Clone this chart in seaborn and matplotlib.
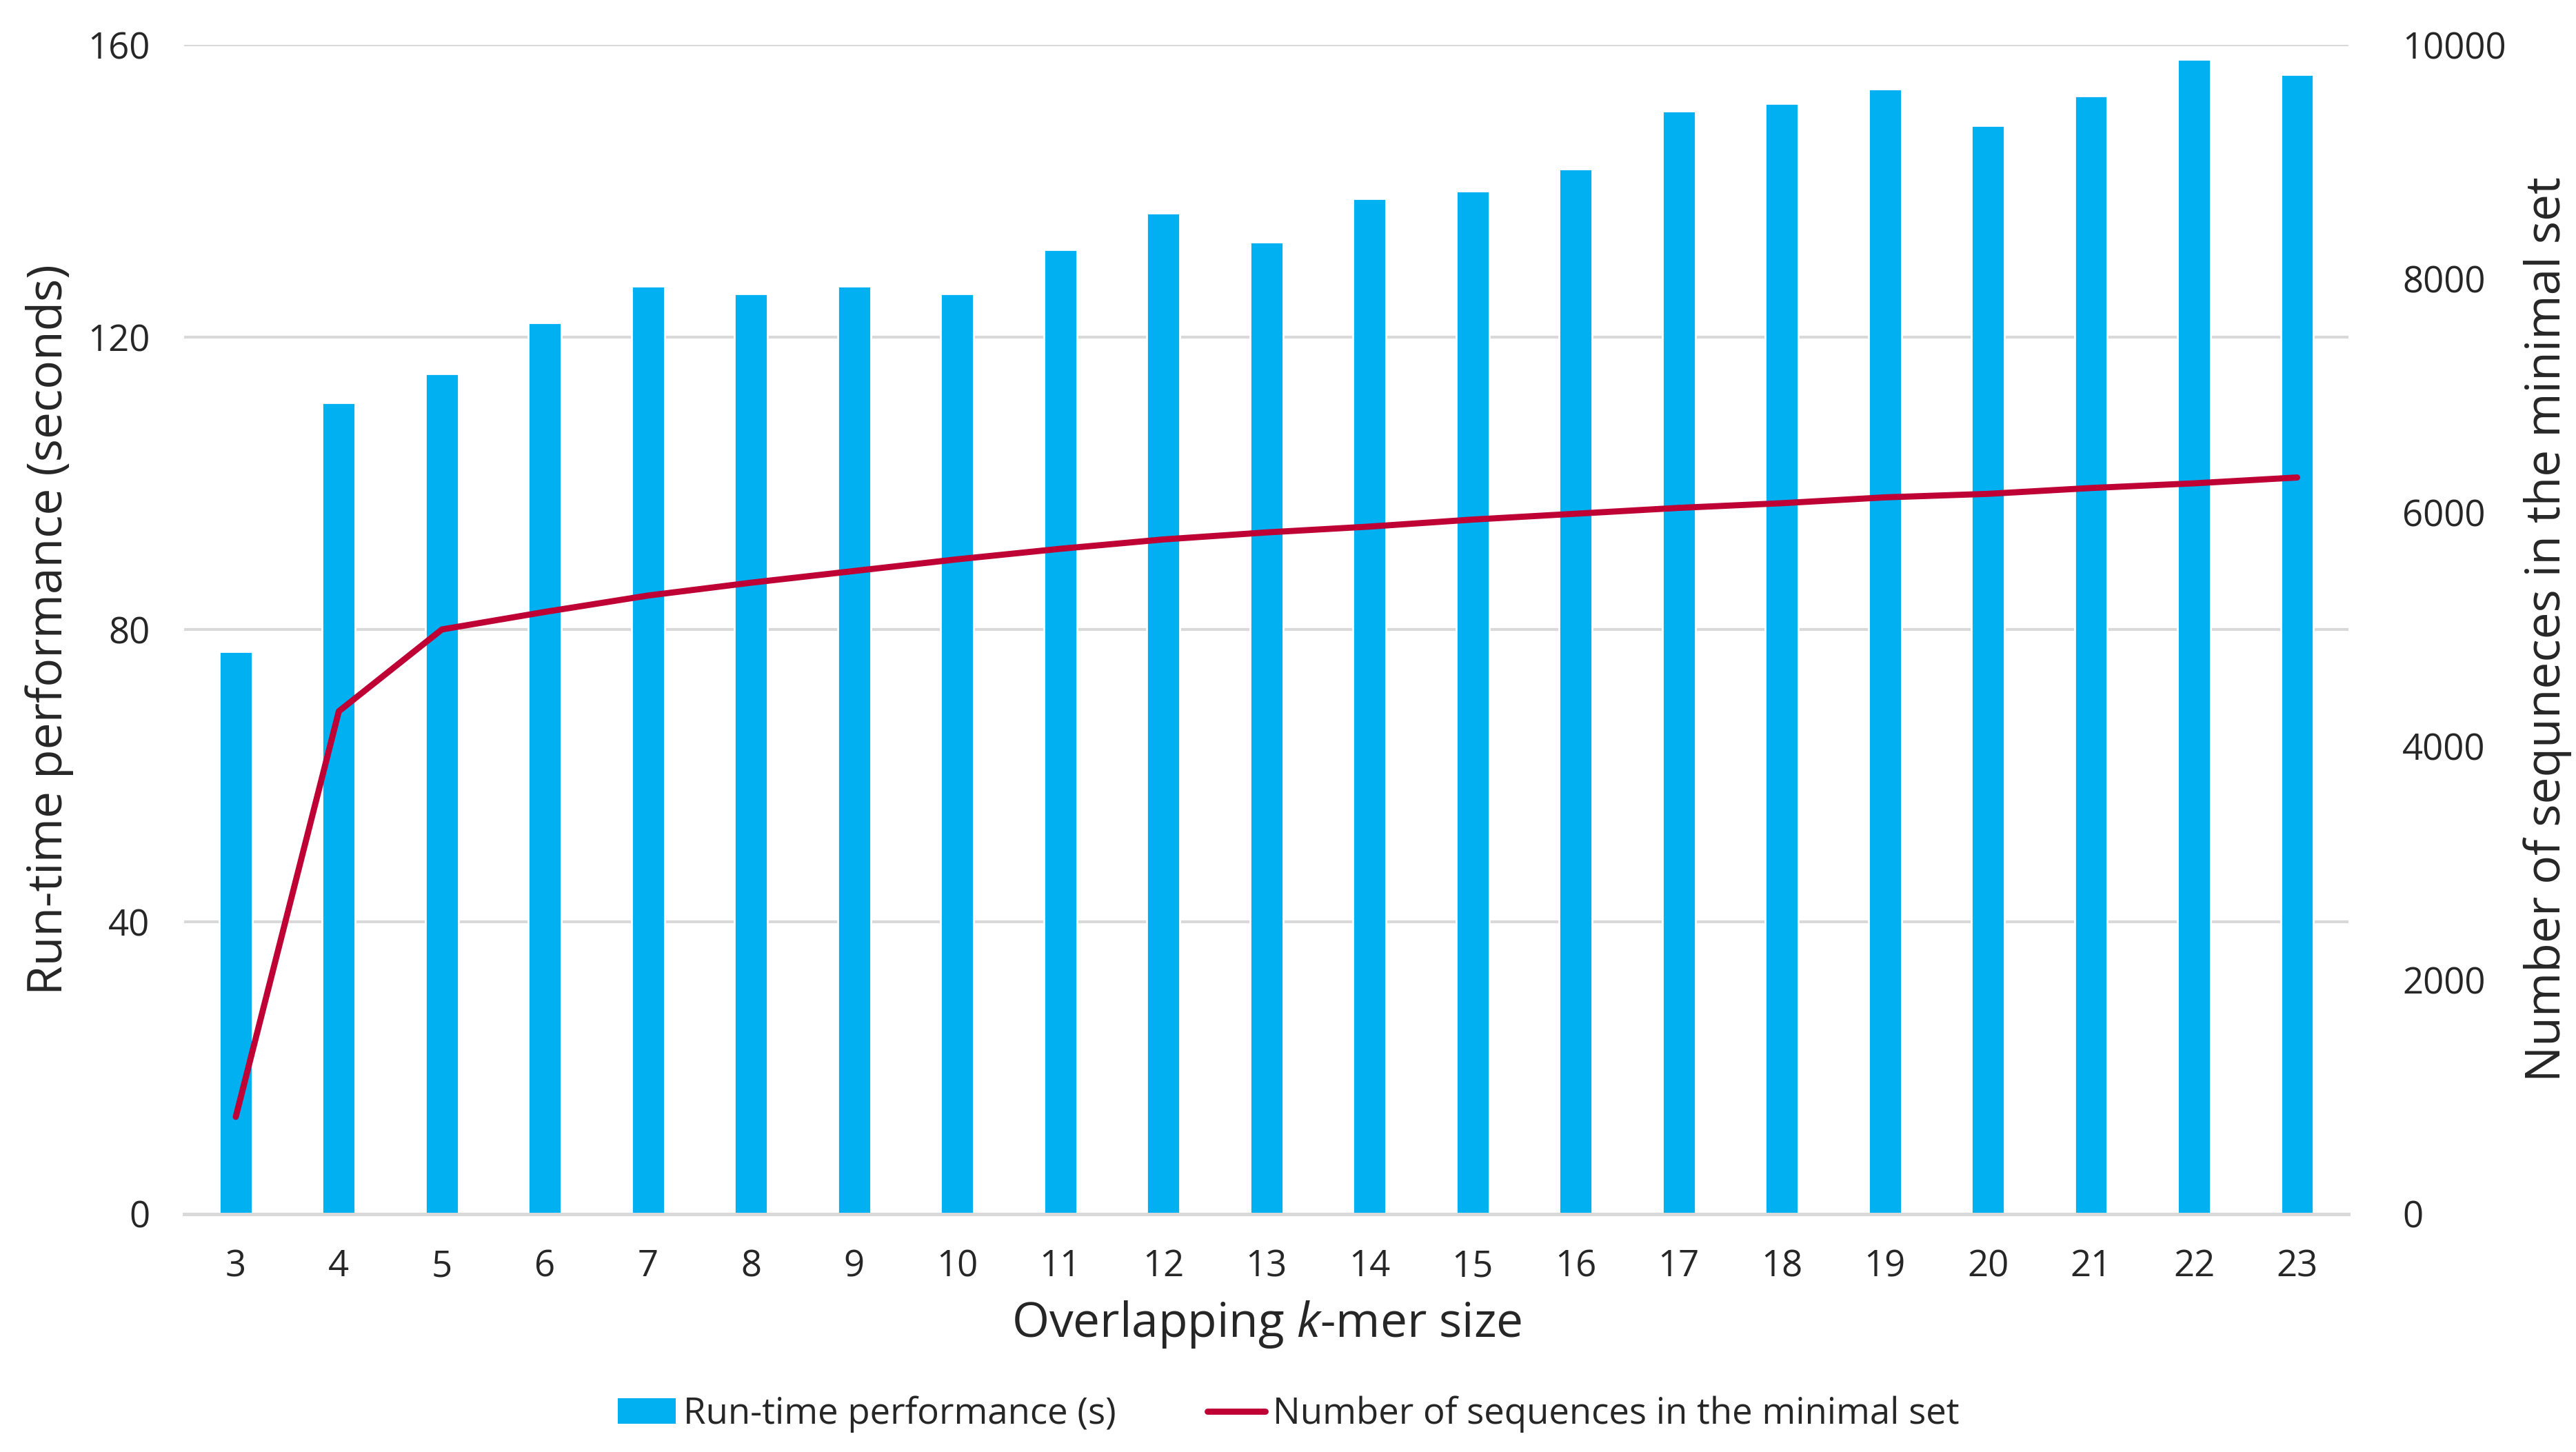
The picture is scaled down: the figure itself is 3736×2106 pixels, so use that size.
import pandas as pd
import matplotlib
matplotlib.use('Agg')
import matplotlib.pyplot as plt
import seaborn as sns
from matplotlib.patches import Patch
from matplotlib.lines import Line2D

# Data
kmer_sizes = [3, 4, 5, 6, 7, 8, 9, 10, 11, 12, 13, 14, 15, 16, 17, 18, 19, 20, 21, 22, 23]
runtime_s = [77, 111, 115, 122, 127, 126, 127, 126, 132, 137, 133, 139, 140, 143,
             151, 152, 154, 149, 153, 158, 156]
n_sequences = [830, 4300, 5000, 5150, 5290, 5400, 5500, 5600, 5690, 5770, 5830, 5880,
               5940, 5990, 6040, 6080, 6130, 6160, 6210, 6250, 6300]

left_ticks = [0, 40, 80, 120, 160]
right_ticks = [0, 2000, 4000, 6000, 8000, 10000]

BLUE = '#00B0F0'
RED = '#BE0034'
GRID = '#D9D9D9'

sns.set_theme(style='white')
plt.rcParams['font.family'] = ['Open Sans', 'DejaVu Sans']
plt.rcParams['mathtext.fontset'] = 'custom'
plt.rcParams['mathtext.it'] = 'Open Sans:italic'
plt.rcParams['mathtext.rm'] = 'Open Sans'

df = pd.DataFrame({'k': [str(k) for k in kmer_sizes],
                   'runtime': runtime_s,
                   'nseq': n_sequences})

fig = plt.figure(figsize=(18.685, 10.53), dpi=200)
ax = fig.add_axes([0.0715, 0.164, 0.840, 0.805])

sns.barplot(data=df, x='k', y='runtime', color=BLUE, width=0.32,
            saturation=1, ax=ax, zorder=2)
ax.set_ylim(0, 160)
ax.set_yticks(left_ticks)
ax.set_xlim(-0.5, len(kmer_sizes) - 0.5)
ax.yaxis.grid(True, color=GRID, linewidth=1.5, zorder=0)
ax.set_axisbelow(True)
for s in ['top', 'right', 'left']:
    ax.spines[s].set_visible(False)
ax.spines['bottom'].set_color(GRID)
ax.spines['bottom'].set_linewidth(1.8)
ax.tick_params(axis='both', length=0, labelsize=19, colors='#262626', pad=18)
ax.set_ylabel('Run-time performance (seconds)', fontsize=25, labelpad=7)
ax.set_xlabel(r'Overlapping $\it{k}$-mer size', fontsize=25, labelpad=7)

ax2 = ax.twinx()
sns.lineplot(x=list(range(len(kmer_sizes))), y=n_sequences, color=RED,
             linewidth=3.2, ax=ax2, zorder=3)
ax2.set_ylim(0, 10000)
ax2.set_yticks(right_ticks)
ax2.set_xlim(-0.5, len(kmer_sizes) - 0.5)
for s in ax2.spines.values():
    s.set_visible(False)
ax2.tick_params(axis='y', length=0, labelsize=19, colors='#262626', pad=28)
ax2.set_ylabel('Number of sequneces in the minimal set', fontsize=25, labelpad=9)
ax2.grid(False)

handles = [Patch(facecolor=BLUE, edgecolor='none'),
           Line2D([0], [0], color=RED, linewidth=3.2)]
labels = ['Run-time performance (s)', 'Number of sequences in the minimal set']
fig.legend(handles, labels, loc='center', bbox_to_anchor=(0.5, 0.026), ncol=2,
           frameon=False, fontsize=19, handlelength=1.6, handletextpad=0.2,
           columnspacing=2.5)

fig.savefig('out.png', dpi=200)
